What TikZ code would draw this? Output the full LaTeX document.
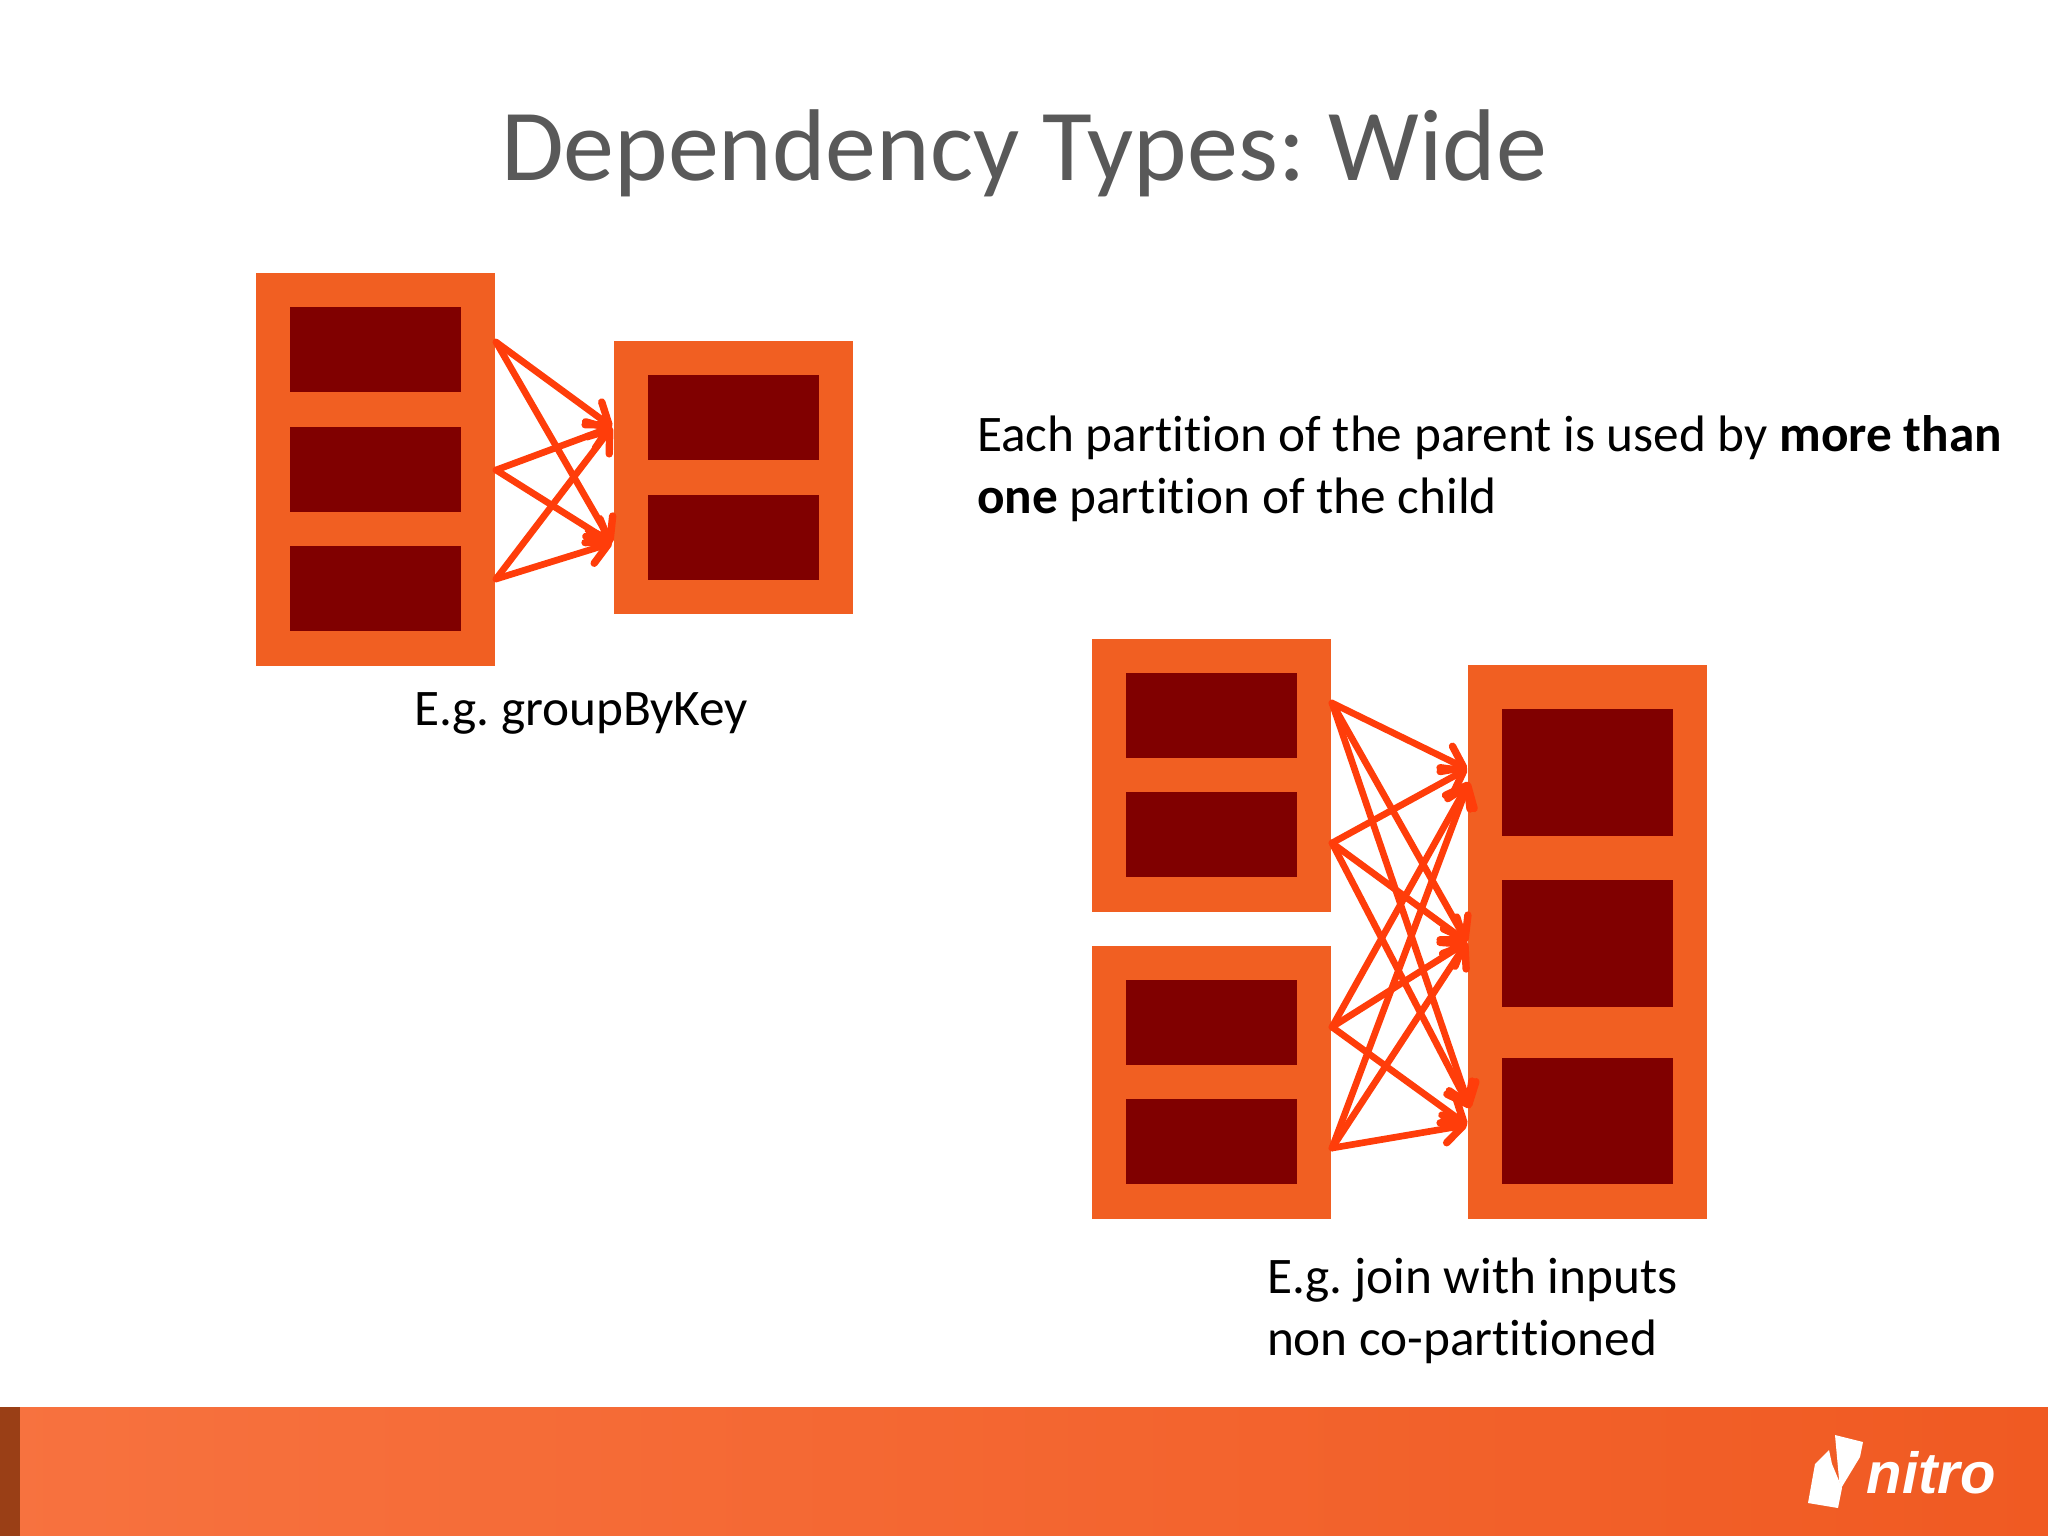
\documentclass[tikz,border=0pt]{standalone}
\usepackage{fontspec}
\setmainfont[Ligatures=NoCommon]{Carlito}
\newfontfamily\logofont{Liberation Sans}
\usepackage{xcolor}
\usetikzlibrary{
	positioning,
	arrows.meta
}
\definecolor{rddorange}{HTML}{F15F22}
\definecolor{partred}{HTML}{800000}
\definecolor{linkred}{HTML}{FF3D0A}
\definecolor{titlegray}{HTML}{595959}
\definecolor{bandleft}{HTML}{F7723F}
\definecolor{bandright}{HTML}{F05A22}
\definecolor{stripbrown}{HTML}{9A3F16}
\tikzset{
	rdd/.style={fill=rddorange,inner sep=0,outer sep=0,minimum width=2.39cm,minimum height=#1},
	part/.style={fill=partred,inner sep=0,outer sep=0,minimum width=1.71cm,minimum height=#1},
	part/.default=0.85cm,
	link/.style={draw=linkred,line width=1.9pt,line cap=round,-{Straight Barb[length=5.5pt,width=8pt,round,line width=2.1pt]}},
	caption/.style={anchor=base west,align=left,font=\fontsize{14.58}{17.4}\selectfont,inner sep=0,outer sep=0}
}

\begin{document}
\frenchspacing
\begin{tikzpicture}[x=0.01cm,y=-0.01cm]
	\useasboundingbox (0,0) rectangle (2048,1536);

	% footer
	\node [anchor=north west,inner sep=0,outer sep=0,minimum width=20.48cm,minimum height=1.29cm,left color=bandleft,right color=bandright] (band) at (0,1407) {};
	\node [anchor=north west,inner sep=0,outer sep=0,minimum width=0.2cm,minimum height=1.29cm,fill=stripbrown] (strip) at (0,1407) {};
	\fill[white] (1835,1435) -- (1863,1442) -- (1860,1457) -- (1840,1490) -- cycle;
	\fill[white] (1829,1450) -- (1815,1464) -- (1808,1503) -- (1838,1508) -- (1842,1488) -- (1832,1464) -- cycle;
	\node [anchor=base west,inner sep=0,text=white,font=\logofont\fontsize{16.5}{16.5}\selectfont\bfseries\itshape] (logo) at (1866,1493) {nitro};

	% title
	\node [anchor=base,inner sep=0,text=titlegray,font=\fontsize{29}{36}\selectfont] (title) at (1024,180) {Dependency Types: Wide};

	% groupByKey
	\draw
		node [rdd=3.93cm,anchor=north west,at={(256,273)}]  (parent) {}
		node [part,below=0.34cm of parent.north]            (parent1) {}
		node [part,below=0.345cm of parent1]                (parent2) {}
		node [part,below=0.345cm of parent2]                (parent3) {}
		node [rdd=2.73cm,anchor=north west,at={(614,341)}]  (child) {}
		node [part,below=0.34cm of child.north]             (child1) {}
		node [part,below=0.345cm of child1]                 (child2) {}
	;
	\coordinate (pa) at (496,342);
	\coordinate (pb) at (496,470);
	\coordinate (pc) at (496,579);
	\coordinate (ca) at (612,427);
	\coordinate (cb) at (612,543);
	\draw[every edge/.style={link}]
		(pa) edge (ca)
		(pa) edge (cb)
		(pb) edge (ca)
		(pb) edge (cb)
		(pc) edge (ca)
		(pc) edge (cb)
	;
	\node [caption] (bykey) at (414,725) {E.g. groupByKey};

	% description
	\node [caption] (desc) at (977,513) {Each partition of the parent is used by \textbf{more than}\\\textbf{one} partition of the child};

	% join
	\draw
		node [rdd=2.73cm,anchor=north west,at={(1092,639)}]  (left) {}
		node [part,below=0.34cm of left.north]               (left1) {}
		node [part,below=0.335cm of left1]                   (left2) {}
		node [rdd=2.73cm,anchor=north west,at={(1092,946)}]  (right) {}
		node [part,below=0.34cm of right.north]              (right1) {}
		node [part,below=0.335cm of right1]                  (right2) {}
		node [rdd=5.54cm,anchor=north west,at={(1468,665)}]  (joined) {}
		node [part=1.27cm,below=0.44cm of joined.north]      (joined1) {}
		node [part=1.27cm,below=0.44cm of joined1]           (joined2) {}
		node [part=1.26cm,below=0.51cm of joined2]           (joined3) {}
	;
	\coordinate (la) at (1332,703);
	\coordinate (lb) at (1332,843);
	\coordinate (ra) at (1332,1027);
	\coordinate (rb) at (1332,1148);
	\coordinate (ja) at (1467,769);
	\coordinate (jb) at (1469,782);
	\coordinate (jc) at (1467,942);
	\coordinate (jd) at (1470,1108);
	\coordinate (je) at (1467,1125);
	\draw[every edge/.style={link}]
		(la) edge (ja)
		(la) edge (jc)
		(la) edge (jd)
		(lb) edge (ja)
		(lb) edge (jc)
		(lb) edge (jd)
		(ra) edge (jb)
		(ra) edge (jc)
		(ra) edge (je)
		(rb) edge (jb)
		(rb) edge (jc)
		(rb) edge (je)
	;
	\node [caption] (joinnote) at (1267,1355) {E.g. join with inputs\\non co-partitioned};
\end{tikzpicture}
\end{document}
